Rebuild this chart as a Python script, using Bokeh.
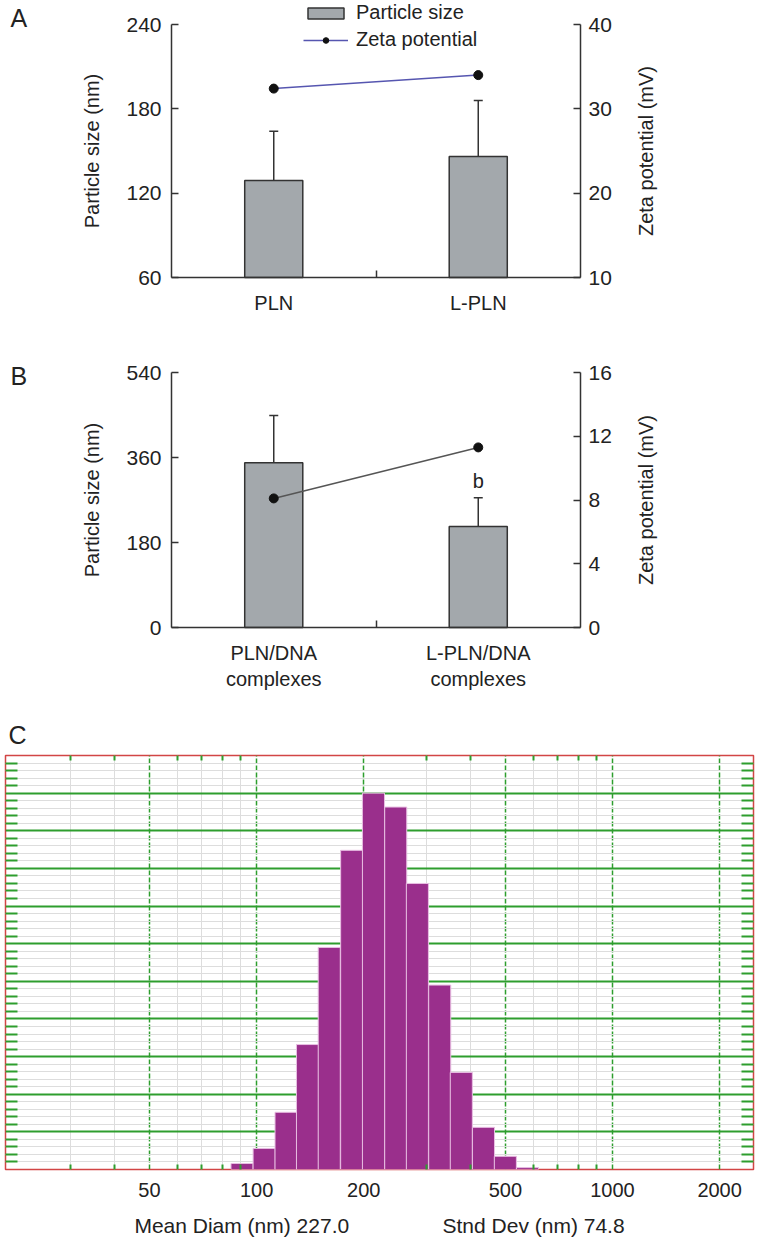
import math
from bokeh.plotting import figure
from bokeh.layouts import column
from bokeh.models import (Range1d, LinearAxis, LogAxis, FixedTicker, Whisker, TeeHead,
                          ColumnDataSource, Legend, LegendItem, Label, Title)
from bokeh.embed import file_html
from bokeh.resources import INLINE

FONT = "Liberation Sans"
TXT = "#222222"
AX = "#333333"
GREEN = "#2e9e2e"

# ---------------- data ----------------
a_groups = ["PLN", "L-PLN"]
a_size = [129, 146]
a_size_sd = [35, 40]
a_zeta = [32.4, 34.0]
a_size_ticks = [60, 120, 180, 240]
a_zeta_ticks = [10, 20, 30, 40]

b_groups = ["PLN/DNA\ncomplexes", "L-PLN/DNA\ncomplexes"]
b_size = [349, 214]
b_size_sd = [100, 61]
b_zeta = [8.1, 11.3]
b_marks = ["", "b"]
b_size_ticks = [0, 180, 360, 540]
b_zeta_ticks = [0, 4, 8, 12, 16]

c_diam = [91, 105, 121, 139, 160, 185, 213, 246, 283, 327, 376, 434, 500, 577]
c_intensity = [1.6, 5.6, 15.2, 33.2, 59, 84.8, 100, 96.3, 76, 49, 25.8, 11.2, 3.5, 0.5]
c_xticks = [50, 100, 200, 500, 1000, 2000]
c_xminor = [30, 40, 60, 70, 80, 90, 300, 400, 600, 700, 800, 900]
c_mean_diam = 227.0
c_std_dev = 74.8

# ---------------- layout (page pixels) ----------------
W = 757
BOX_L, BOX_R = 171, 580


def no_align(p):
    if "frame_align" in p.properties():
        p.frame_align = False


def style_axis(ax, label_size="20px"):
    ax.axis_line_color = AX
    ax.axis_line_width = 1.5
    ax.major_tick_line_color = AX
    ax.major_tick_line_width = 1.5
    ax.major_tick_in = 7
    ax.major_tick_out = 0
    ax.minor_tick_line_color = None
    ax.major_label_text_font = FONT
    ax.major_label_text_font_size = label_size
    ax.major_label_text_color = TXT
    ax.axis_label_text_font = FONT
    ax.axis_label_text_font_size = "20px"
    ax.axis_label_text_font_style = "normal"
    ax.axis_label_text_color = TXT


def bar_panel(groups, size, sd, zeta, size_ticks, zeta_ticks, zeta_color,
              canvas_top, canvas_h, box_top, box_bottom, letter, letter_y,
              marks=None, legend=False):
    n = len(groups)
    xs = [i + 0.5 for i in range(n)]
    xppu = (BOX_R - BOX_L) / n

    def yrange(lo, hi):
        ppu = (box_bottom - box_top) / (hi - lo)
        return Range1d(lo - (canvas_top + canvas_h - box_bottom) / ppu,
                       hi + (box_top - canvas_top) / ppu)

    p = figure(width=W, height=canvas_h,
               x_range=Range1d(-BOX_L / xppu, n + (W - BOX_R) / xppu),
               y_range=yrange(size_ticks[0], size_ticks[-1]),
               output_backend="svg", toolbar_location=None,
               min_border_left=0, min_border_right=0,
               min_border_top=0, min_border_bottom=0)
    no_align(p)
    p.outline_line_color = None
    p.grid.visible = False
    p.background_fill_color = "white"
    p.extra_y_ranges = {"zeta": yrange(zeta_ticks[0], zeta_ticks[-1])}

    src = ColumnDataSource(dict(x=xs, size=size,
                                upper=[s + d for s, d in zip(size, sd)],
                                zeta=zeta, mark=marks if marks else [""] * n))
    bars = p.vbar(x="x", top="size", bottom=size_ticks[0], width=0.284, source=src,
                  fill_color="#a3a8ac", line_color=AX, line_width=1.5)
    p.add_layout(Whisker(source=src, base="x", upper="upper", lower="size",
                         dimension="height",
                         upper_head=TeeHead(size=9, line_color=AX, line_width=1.5),
                         lower_head=None, line_color=AX, line_width=1.5))
    ln = p.line("x", "zeta", source=src, y_range_name="zeta",
                line_color=zeta_color, line_width=1.5)
    pts = p.scatter("x", "zeta", source=src, y_range_name="zeta", size=9,
                    fill_color="#111111", line_color="#111111")
    if marks:
        p.text(x="x", y="upper", text="mark", source=src, text_align="center",
               text_baseline="bottom", y_offset=-6, text_font={"value": FONT},
               text_font_size="20px", text_color=TXT)

    # left axis (fixed inside the canvas)
    la = p.yaxis[0]
    la.fixed_location = 0
    la.bounds = (size_ticks[0], size_ticks[-1])
    la.ticker = FixedTicker(ticks=size_ticks)
    la.axis_label = "Particle size (nm)"
    style_axis(la, "21px")
    la.major_label_standoff = 10
    la.axis_label_standoff = 20

    # right axis
    ra = LinearAxis(y_range_name="zeta", ticker=FixedTicker(ticks=zeta_ticks),
                    fixed_location=n, bounds=(zeta_ticks[0], zeta_ticks[-1]))
    style_axis(ra, "21px")
    ra.major_label_standoff = 8
    p.add_layout(ra, "right")
    mid = (box_top + box_bottom) / 2 - canvas_top
    p.add_layout(Label(x=645, y=canvas_h - mid, x_units="screen", y_units="screen",
                       text="Zeta potential (mV)", angle=math.pi / 2,
                       text_align="center", text_baseline="middle",
                       text_font=FONT, text_font_size="20px", text_color=TXT))

    # bottom axis
    ba = p.xaxis[0]
    ba.fixed_location = size_ticks[0]
    ba.bounds = (0, n)
    ba.ticker = FixedTicker(ticks=xs, minor_ticks=list(range(1, n)))
    ba.major_label_overrides = {x: g for x, g in zip(xs, groups)}
    style_axis(ba)
    ba.major_tick_in = 0
    ba.major_tick_out = 0
    ba.minor_tick_line_color = AX
    ba.minor_tick_line_width = 1.5
    ba.minor_tick_in = 7
    ba.minor_tick_out = 0
    ba.major_label_standoff = 14

    # panel letter
    p.add_layout(Label(x=10, y=canvas_h - (letter_y - canvas_top),
                       x_units="screen", y_units="screen", text=letter,
                       text_align="left", text_baseline="middle",
                       text_font=FONT, text_font_size="25px", text_color=TXT))

    if legend:
        leg_h = 22 + 4 + 22
        leg = Legend(items=[LegendItem(label="Particle size", renderers=[bars]),
                            LegendItem(label="Zeta potential", renderers=[ln, pts])],
                     location=(303, canvas_h - (3 + leg_h)), orientation="vertical",
                     border_line_color=None, background_fill_alpha=0,
                     padding=0, margin=0, spacing=4,
                     glyph_width=45, glyph_height=14, label_height=22,
                     label_standoff=8,
                     label_text_font=FONT, label_text_font_size="20px",
                     label_text_color=TXT)
        p.add_layout(leg, "center")
    return p


pA = bar_panel(a_groups, a_size, a_size_sd, a_zeta, a_size_ticks, a_zeta_ticks,
               "#5656b0", canvas_top=0, canvas_h=330, box_top=24, box_bottom=277,
               letter="A", letter_y=17.5, legend=True)
pB = bar_panel(b_groups, b_size, b_size_sd, b_zeta, b_size_ticks, b_zeta_ticks,
               "#555555", canvas_top=330, canvas_h=370, box_top=372, box_bottom=627,
               letter="B", letter_y=375, marks=b_marks)

# ---------------- panel C ----------------  frame: x 5..753, y 755..1169
pC = figure(width=W, height=541, x_axis_type="log",
            x_range=Range1d(19.7, 2490), y_range=Range1d(0, 110),
            output_backend="svg", toolbar_location=None,
            min_border_left=5, min_border_right=4,
            min_border_top=55, min_border_bottom=72)
no_align(pC)
pC.outline_line_color = "#d24545"
pC.outline_line_width = 1.5
pC.background_fill_color = "white"

half = 1.074
pC.quad(left=[d / half for d in c_diam], right=[d * half for d in c_diam],
        bottom=0, top=c_intensity, fill_color="#9a2f8c", line_color="#e8bfe2",
        line_width=1)

yt_major = list(range(0, 111, 10))
yt_minor = [v for v in range(0, 111, 2) if v % 10 != 0]

xg = pC.xgrid[0]
xg.ticker = FixedTicker(ticks=c_xticks, minor_ticks=c_xminor)
xg.grid_line_color = GREEN
xg.grid_line_width = 1.5
xg.grid_line_dash = "5 2"
xg.minor_grid_line_color = "#dddddd"
xg.minor_grid_line_width = 1

yg = pC.ygrid[0]
yg.ticker = FixedTicker(ticks=yt_major, minor_ticks=yt_minor)
yg.grid_line_color = GREEN
yg.grid_line_width = 2
yg.minor_grid_line_color = "#dddddd"
yg.minor_grid_line_width = 1

bx = pC.xaxis[0]
bx.ticker = FixedTicker(ticks=c_xticks, minor_ticks=c_xminor)
bx.major_label_overrides = {t: str(t) for t in c_xticks}
style_axis(bx)
bx.axis_line_color = None
bx.major_tick_in = 0
bx.major_tick_out = 0
bx.minor_tick_line_color = GREEN
bx.minor_tick_line_width = 2
bx.minor_tick_in = 5
bx.minor_tick_out = 0
bx.major_label_standoff = 13
bx.axis_label = (f"Mean Diam (nm) {c_mean_diam:.1f}" + "\u00a0" * 16 +
                 f"Stnd Dev (nm) {c_std_dev:.1f}")
bx.axis_label_text_font_size = "21px"
bx.axis_label_standoff = 14

tx = LogAxis(ticker=FixedTicker(ticks=[], minor_ticks=c_xminor))
pC.add_layout(tx, "above")
ry = LinearAxis(ticker=FixedTicker(ticks=[], minor_ticks=yt_minor))
pC.add_layout(ry, "right")
ly = pC.yaxis[0]
ly.ticker = FixedTicker(ticks=[], minor_ticks=yt_minor)
for ax, ln_in in ((tx, 5), (ly, 12), (ry, 12)):
    ax.axis_line_color = None
    ax.major_tick_line_color = None
    ax.major_label_standoff = 0
    ax.minor_tick_line_color = GREEN
    ax.minor_tick_line_width = 2
    ax.minor_tick_in = ln_in
    ax.minor_tick_out = 0

pC.add_layout(Title(text="C", align="left", offset=3, standoff=14,
                    vertical_align="bottom", text_font=FONT, text_font_size="25px",
                    text_font_style="normal", text_color=TXT), "above")

layout = column(pA, pB, pC, spacing=0)
open("out.html", "w").write(file_html(layout, INLINE))
